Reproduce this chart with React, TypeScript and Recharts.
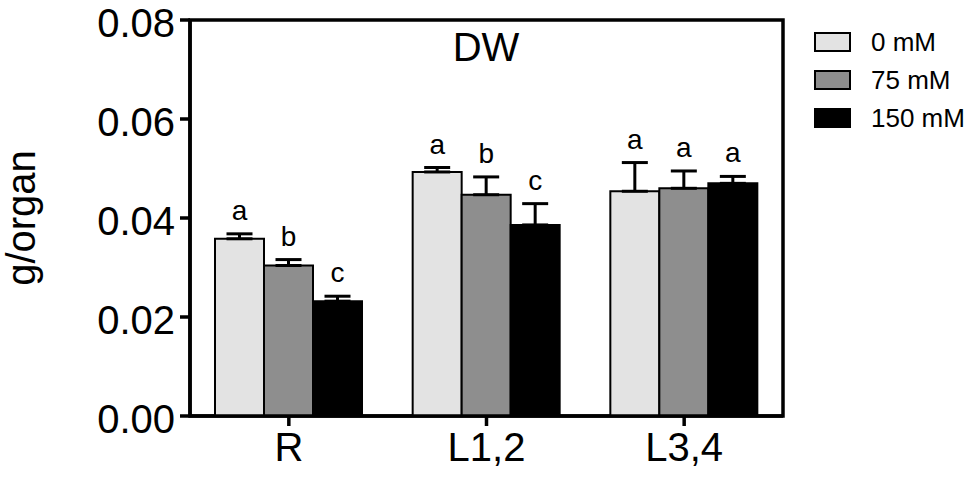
import React from 'react';
import { Bar, BarChart, ErrorBar, LabelList, ReferenceArea, XAxis, YAxis } from 'recharts';

const categories = ['R', 'L1,2', 'L3,4'];
const mean0 = [0.0358, 0.0493, 0.0454];
const mean75 = [0.0304, 0.0447, 0.046];
const mean150 = [0.0232, 0.0386, 0.047];
const sem0 = [0.001, 0.0009, 0.0058];
const sem75 = [0.0012, 0.0036, 0.0035];
const sem150 = [0.001, 0.0043, 0.0014];
const letters0 = ['a', 'a', 'a'];
const letters75 = ['b', 'b', 'a'];
const letters150 = ['c', 'c', 'a'];
const yTicks = [0, 0.02, 0.04, 0.06, 0.08];

const FONT = '"Liberation Sans", Arial, sans-serif';

const SERIES = [
  { key: 'c0', name: '0 mM', fill: '#e3e3e3', means: mean0, sems: sem0, letters: letters0 },
  { key: 'c75', name: '75 mM', fill: '#8e8e8e', means: mean75, sems: sem75, letters: letters75 },
  { key: 'c150', name: '150 mM', fill: '#000000', means: mean150, sems: sem150, letters: letters150 },
];

const data = categories.map((cat, i) => {
  const row: Record<string, any> = { cat };
  for (const s of SERIES) {
    row[s.key] = s.means[i];
    row[s.key + 'Err'] = [0, s.sems[i]];
    row[s.key + 'Let'] = s.letters[i];
  }
  return row;
});

// letter sits above the top of the error bar
const letterContent = (means: number[], sems: number[]) => (props: any) => {
  const vb = props.viewBox ?? {};
  const x = props.x ?? vb.x;
  const y = props.y ?? vb.y;
  const width = props.width ?? vb.width;
  const height = props.height ?? vb.height;
  const i = props.index;
  const perUnit = height / means[i];
  const top = y - sems[i] * perUnit;
  return (
    <text x={x + width / 2} y={top - 14} textAnchor="middle" fontSize={28} fontFamily={FONT} fill="#000">
      {props.value}
    </text>
  );
};

function LegendBox() {
  return (
    <div style={{ position: 'absolute', left: 814, top: 23, fontFamily: FONT }}>
      {SERIES.map(s => (
        <div key={s.key} style={{ display: 'flex', alignItems: 'center', height: 38 }}>
          <span
            style={{
              width: 33, height: 16, background: s.fill, border: '2px solid #000',
              display: 'inline-block', marginRight: 20,
            }}
          />
          <span style={{ fontSize: 26, color: '#000' }}>{s.name}</span>
        </div>
      ))}
    </div>
  );
}

export default function App() {
  return (
    <div style={{ position: 'relative', width: 975, height: 477, background: '#fff', fontFamily: FONT }}>
      <style>{'body{margin:0}'}</style>
      <BarChart
        width={975}
        height={477}
        data={data}
        margin={{ top: 20, right: 192, bottom: 0, left: 0 }}
        barCategoryGap={25}
        barGap={0}
      >
        <XAxis
          dataKey="cat"
          height={61}
          tickSize={10}
          tickMargin={7}
          axisLine={{ stroke: '#000', strokeWidth: 3.5 }}
          tickLine={{ stroke: '#000', strokeWidth: 3.5 }}
          tick={{ fontSize: 40, fill: '#000', fontFamily: FONT }}
        />
        <YAxis
          width={190}
          domain={[0, 0.08]}
          ticks={yTicks}
          tickFormatter={(v: number) => v.toFixed(2)}
          tickSize={10}
          tickMargin={5}
          interval={0}
          axisLine={{ stroke: '#000', strokeWidth: 3.5 }}
          tickLine={{ stroke: '#000', strokeWidth: 3.5 }}
          tick={{ fontSize: 40, fill: '#000', fontFamily: FONT, dy: 3 }}
          label={{ value: 'g/organ', angle: -90, position: 'insideLeft', offset: 21, textAnchor: 'middle',
            style: { fontSize: 40, fill: '#000', fontFamily: FONT } }}
        />
        {/* plot frame (top and right edges) */}
        <ReferenceArea y1={0} y2={0.08} fill="none" fillOpacity={0} stroke="#000" strokeWidth={3.5} />
        {SERIES.map(s => (
          <Bar key={s.key} dataKey={s.key} name={s.name} fill={s.fill} stroke="#000" strokeWidth={2}
            isAnimationActive={false}>
            <ErrorBar dataKey={s.key + 'Err'} direction="y" width={13} stroke="#000" strokeWidth={3} />
            <LabelList dataKey={s.key + 'Let'} content={letterContent(s.means, s.sems)} />
          </Bar>
        ))}
      </BarChart>
      <LegendBox />
      <div style={{ position: 'absolute', left: 436, top: 25, fontSize: 40, fontFamily: FONT, color: '#000', width: 100, textAlign: 'center' }}>
        DW
      </div>
    </div>
  );
}
